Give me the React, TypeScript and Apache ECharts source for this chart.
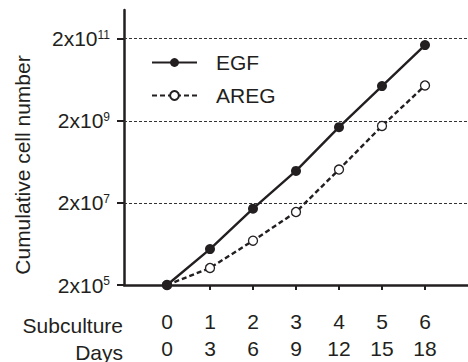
import React, { useEffect, useRef } from "react";
import * as echarts from "echarts";

const subculture = [0, 1, 2, 3, 4, 5, 6];
const days = [0, 3, 6, 9, 12, 15, 18];
const egf = [2e5, 1.5e6, 1.45e7, 1.2e8, 1.4e9, 1.4e10, 1.4e11];
const areg = [2e5, 5.2e5, 2.4e6, 1.2e7, 1.3e8, 1.5e9, 1.45e10];
const yTicks = [2e5, 2e7, 2e9, 2e11];
const rowHeaders = ["Subculture", "Days"];

const FONT = "'Liberation Sans', Arial, Helvetica, sans-serif";
const INK = "#231f20";
const FS = 21;

export default function App() {
  const ref = useRef<HTMLDivElement>(null);
  useEffect(() => {
    if (!ref.current) return;
    const chart = echarts.init(ref.current, undefined, { renderer: "svg" });
    chart.setOption({
      animation: false,
      backgroundColor: "#ffffff",
      textStyle: { fontFamily: FONT, color: INK },
      grid: { left: 124, right: 0, top: 10, bottom: 74, containLabel: false },
      legend: {
        orient: "vertical",
        left: 151,
        top: 52,
        padding: 0,
        itemWidth: 45,
        itemHeight: 11,
        itemGap: 12,
        textStyle: { fontFamily: FONT, fontSize: FS, color: INK, lineHeight: 20, padding: [0, 0, 0, 14] },
        data: ["EGF", "AREG"],
      },
      xAxis: {
        type: "value",
        min: -1,
        max: 7,
        interval: 1,
        axisLine: { show: true, onZero: false, lineStyle: { color: INK, width: 2.5 } },
        axisTick: { show: true, length: 5, lineStyle: { color: INK, width: 2 }, customValues: subculture },
        splitLine: { show: false },
        axisLabel: {
          customValues: subculture,
          margin: 23,
          fontFamily: FONT,
          fontSize: FS,
          lineHeight: 27,
          color: INK,
          formatter: (v: number) => {
            const i = subculture.indexOf(Math.round(v));
            return i < 0 ? "" : `${subculture[i]}\n${days[i]}`;
          },
        },
      },
      yAxis: {
        type: "log",
        logBase: 10,
        min: 2e5,
        max: 1e12,
        axisLine: { show: true, onZero: false, lineStyle: { color: INK, width: 2.5 } },
        axisTick: { show: true, length: 7, lineStyle: { color: INK, width: 2 }, customValues: yTicks },
        splitLine: { show: false },
        axisLabel: {
          customValues: yTicks,
          margin: 14,
          color: INK,
          formatter: (v: number) => {
            const e = Math.round(Math.log10(v / 2));
            return `{b|2x10}{s|${e}}`;
          },
          rich: {
            b: { fontFamily: FONT, fontSize: FS, color: INK, lineHeight: 20 },
            s: { fontFamily: FONT, fontSize: 12, color: INK, verticalAlign: "top", lineHeight: 20, padding: [0, 0, 6, 0] },
          },
        },
      },
      graphic: [
        {
          type: "text",
          x: 22,
          y: 165,
          rotation: Math.PI / 2,
          style: {
            text: "Cumulative cell number",
            fontFamily: FONT,
            fontSize: FS,
            fill: INK,
            textAlign: "center",
            textVerticalAlign: "middle",
          },
        },
        ...rowHeaders.map((t, i) => ({
          type: "text",
          x: 123,
          y: 325 + i * 27,
          style: {
            text: t,
            fontFamily: FONT,
            fontSize: FS,
            fill: INK,
            textAlign: "right",
            textVerticalAlign: "middle",
          },
        })),
      ],
      series: [
        {
          name: "EGF",
          type: "line",
          data: subculture.map((x, i) => [x, egf[i]]),
          symbol: "circle",
          symbolSize: 10,
          itemStyle: { color: INK },
          lineStyle: { color: INK, width: 2.4 },
          z: 3,
          markLine: {
            silent: true,
            symbol: "none",
            label: { show: false },
            lineStyle: { color: "#333", width: 1, type: [3, 2] },
            data: yTicks.slice(1).map((v) => ({ yAxis: v })),
            z: 1,
          },
        },
        {
          name: "AREG",
          type: "line",
          data: subculture.map((x, i) => [x, areg[i]]),
          symbol: "circle",
          symbolSize: 9,
          itemStyle: { color: "#ffffff", borderColor: INK, borderWidth: 1.3 },
          lineStyle: { color: INK, width: 2.4, type: [5, 3] },
          z: 2,
        },
      ],
    });
    return () => chart.dispose();
  }, []);
  return <div ref={ref} style={{ position: "fixed", left: 0, top: 0, width: 468, height: 362 }} />;
}
